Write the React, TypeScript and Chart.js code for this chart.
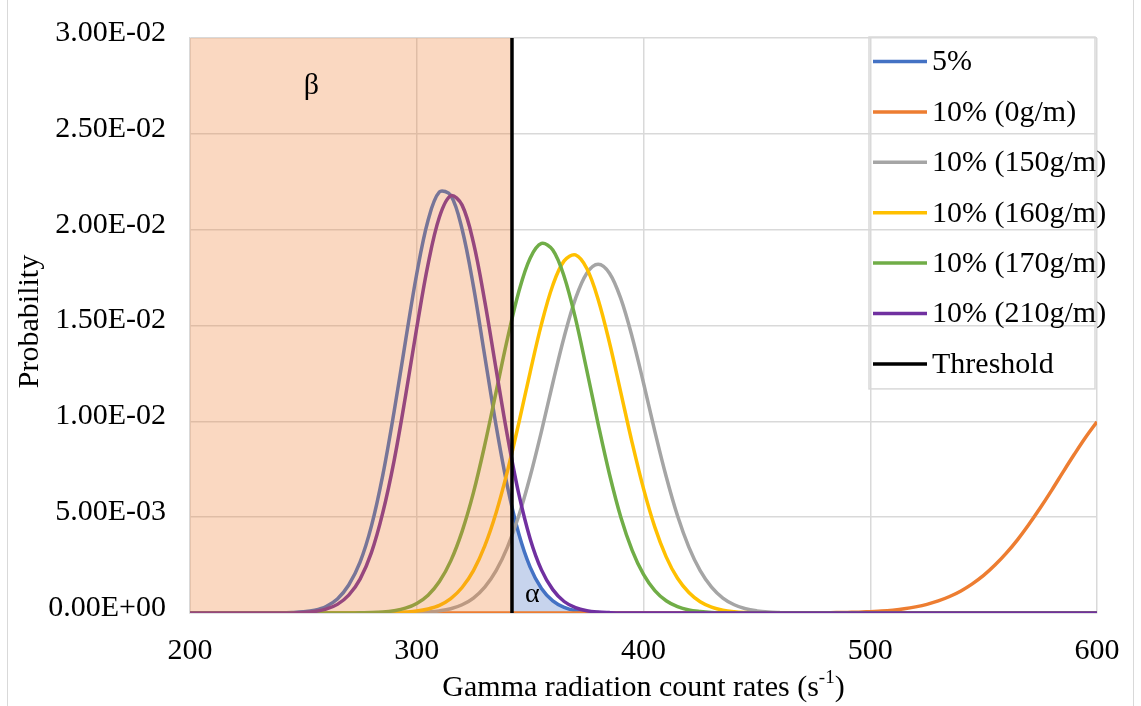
import { useEffect, useRef } from "react";
import { Chart, registerables } from "chart.js";

Chart.register(...registerables);

// Count rate grid (s^-1)
const X = [
  200, 205, 210, 215, 220, 225, 230, 235, 240, 245,
  250, 255, 260, 265, 270, 275, 280, 285, 290, 295,
  300, 305, 310, 315, 320, 325, 330, 335, 340, 345,
  350, 355, 360, 365, 370, 375, 380, 385, 390, 395,
  400, 405, 410, 415, 420, 425, 430, 435, 440, 445,
  450, 455, 460, 465, 470, 475, 480, 485, 490, 495,
  500, 505, 510, 515, 520, 525, 530, 535, 540, 545,
  550, 555, 560, 565, 570, 575, 580, 585, 590, 595,
  600,
];

const P_5 = [
  0, 0, 0, 0, 0, 0, 0, 0, 0, 0.00002,
  0.00006, 0.00015, 0.00034, 0.00073, 0.00146, 0.00265, 0.00453, 0.00718, 0.0105, 0.01416,
  0.0177, 0.02049, 0.02197, 0.02179, 0.02002, 0.01704, 0.0134, 0.00977, 0.00659, 0.00413,
  0.00239, 0.00128, 0.00063, 0.00029, 0.00012, 0.00005, 0.00002, 0, 0, 0,
  0, 0, 0, 0, 0, 0, 0, 0, 0, 0,
  0, 0, 0, 0, 0, 0, 0, 0, 0, 0,
  0, 0, 0, 0, 0, 0, 0, 0, 0, 0,
  0, 0, 0, 0, 0, 0, 0, 0, 0, 0,
  0,
];

const P_10_0 = [
  0, 0, 0, 0, 0, 0, 0, 0, 0, 0,
  0, 0, 0, 0, 0, 0, 0, 0, 0, 0,
  0, 0, 0, 0, 0, 0, 0, 0, 0, 0,
  0, 0, 0, 0, 0, 0, 0, 0, 0, 0,
  0, 0, 0, 0, 0, 0, 0, 0, 0, 0,
  0, 0, 0, 0, 0, 0, 0.00001, 0.00002, 0.00003, 0.00004,
  0.00007, 0.0001, 0.00015, 0.00022, 0.00032, 0.00045, 0.00063, 0.00086, 0.00115, 0.00152,
  0.00196, 0.0025, 0.00312, 0.00383, 0.00463, 0.00549, 0.0064, 0.00735, 0.00828, 0.00917,
  0.00998,
];

const P_10_150 = [
  0, 0, 0, 0, 0, 0, 0, 0, 0, 0,
  0, 0, 0, 0, 0, 0, 0, 0, 0, 0,
  0.00002, 0.00005, 0.00011, 0.00022, 0.00043, 0.00078, 0.00135, 0.00221, 0.00344, 0.00507,
  0.00712, 0.00948, 0.012, 0.0144, 0.0164, 0.01773, 0.0182, 0.01773, 0.0164, 0.0144,
  0.012, 0.00948, 0.00712, 0.00507, 0.00344, 0.00221, 0.00135, 0.00078, 0.00043, 0.00022,
  0.00011, 0.00005, 0.00002, 0, 0, 0, 0, 0, 0, 0,
  0, 0, 0, 0, 0, 0, 0, 0, 0, 0,
  0, 0, 0, 0, 0, 0, 0, 0, 0, 0,
  0,
];

const P_10_160 = [
  0, 0, 0, 0, 0, 0, 0, 0, 0, 0,
  0, 0, 0, 0, 0, 0, 0, 0, 0.00002, 0.00005,
  0.0001, 0.00021, 0.0004, 0.00075, 0.00133, 0.00221, 0.0035, 0.00523, 0.0074, 0.00991,
  0.01256, 0.01507, 0.0171, 0.01837, 0.01868, 0.01797, 0.01636, 0.0141, 0.0115, 0.00888,
  0.00649, 0.00448, 0.00293, 0.00181, 0.00107, 0.00059, 0.00031, 0.00015, 0.00007, 0.00003,
  0.00001, 0, 0, 0, 0, 0, 0, 0, 0, 0,
  0, 0, 0, 0, 0, 0, 0, 0, 0, 0,
  0, 0, 0, 0, 0, 0, 0, 0, 0, 0,
  0,
];

const P_10_170 = [
  0, 0, 0, 0, 0, 0, 0, 0, 0, 0,
  0, 0, 0, 0, 0, 0.00001, 0.00002, 0.00005, 0.00012, 0.00025,
  0.0005, 0.00093, 0.00164, 0.00272, 0.00426, 0.00628, 0.00877, 0.01154, 0.01431, 0.01676,
  0.01851, 0.01928, 0.01894, 0.01756, 0.01537, 0.01266, 0.00986, 0.00724, 0.005, 0.00327,
  0.00201, 0.00117, 0.00064, 0.00033, 0.00016, 0.00008, 0.00003, 0.00001, 0, 0,
  0, 0, 0, 0, 0, 0, 0, 0, 0, 0,
  0, 0, 0, 0, 0, 0, 0, 0, 0, 0,
  0, 0, 0, 0, 0, 0, 0, 0, 0, 0,
  0,
];

const P_10_210 = [
  0, 0, 0, 0, 0, 0, 0, 0, 0, 0,
  0.00003, 0.00008, 0.0002, 0.00045, 0.00093, 0.00177, 0.00315, 0.00522, 0.00794, 0.01128,
  0.01488, 0.0182, 0.02066, 0.02177, 0.02128, 0.01932, 0.01626, 0.01271, 0.00923, 0.00621,
  0.00388, 0.00225, 0.00122, 0.0006, 0.00028, 0.00012, 0.00005, 0.00002, 0, 0,
  0, 0, 0, 0, 0, 0, 0, 0, 0, 0,
  0, 0, 0, 0, 0, 0, 0, 0, 0, 0,
  0, 0, 0, 0, 0, 0, 0, 0, 0, 0,
  0, 0, 0, 0, 0, 0, 0, 0, 0, 0,
  0,
];

const SERIES_LABELS = [
  "5%",
  "10% (0g/m)",
  "10% (150g/m)",
  "10% (160g/m)",
  "10% (170g/m)",
  "10% (210g/m)",
  "Threshold",
];

// Decision threshold and the probability span it is drawn over
const THRESHOLD = 342;
const THRESHOLD_SPAN = [0, 0.03];
// 5% curve value where the α (false alarm) region starts
const ALPHA_EDGE = 0.0055;

// Positions of the region labels, in data units
const BETA_AT = [253.5, 0.0275];
const ALPHA_AT = [351, 0.00094];

const X_TICK_LABELS = ["200", "300", "400", "500", "600"];
const Y_TICK_LABELS = [
  "0.00E+00",
  "5.00E-03",
  "1.00E-02",
  "1.50E-02",
  "2.00E-02",
  "2.50E-02",
  "3.00E-02",
];

const X_TITLE = "Gamma radiation count rates (s";
const X_TITLE_SUP = "-1";
const X_TITLE_END = ")";
const Y_TITLE = "Probability";

const COLORS = ["#4472C4", "#ED7D31", "#A5A5A5", "#FFC000", "#70AD47", "#7030A0", "#000000"];
const FONT = "'Liberation Serif', 'Times New Roman', serif";
const GRID = "#d9d9d9";

const pts = (ys: number[]) => X.map((x, i) => ({ x, y: ys[i] }));

const curve = (i: number, ys: number[], order: number) => ({
  label: SERIES_LABELS[i],
  data: pts(ys),
  borderColor: COLORS[i],
  backgroundColor: COLORS[i],
  borderWidth: 3.5,
  pointRadius: 0,
  tension: 0.35,
  fill: false,
  order,
  inLegend: true,
});

const overlayPlugin = {
  id: "overlay",
  afterDraw(chart: any) {
    const { ctx, chartArea: a, scales } = chart;
    const xs = scales.x;
    const ys = scales.y;
    ctx.save();

    // outer frame
    ctx.strokeStyle = GRID;
    ctx.lineWidth = 1;
    ctx.beginPath();
    ctx.moveTo(7.5, 0);
    ctx.lineTo(7.5, chart.height);
    ctx.moveTo(1133.5, 0);
    ctx.lineTo(1133.5, chart.height);
    ctx.stroke();

    // region labels
    ctx.fillStyle = "#000";
    ctx.textAlign = "center";
    ctx.textBaseline = "middle";
    ctx.font = `30px ${FONT}`;
    ctx.fillText("β", xs.getPixelForValue(BETA_AT[0]), ys.getPixelForValue(BETA_AT[1]));
    ctx.font = `28px ${FONT}`;
    ctx.fillText("α", xs.getPixelForValue(ALPHA_AT[0]), ys.getPixelForValue(ALPHA_AT[1]));

    // y title
    ctx.save();
    ctx.translate(30, (a.top + a.bottom) / 2 - 4);
    ctx.rotate(-Math.PI / 2);
    ctx.font = `30px ${FONT}`;
    ctx.fillText(Y_TITLE, 0, 0);
    ctx.restore();

    // x title with superscript
    ctx.textAlign = "left";
    ctx.textBaseline = "alphabetic";
    const mainFont = `30px ${FONT}`;
    const supFont = `19px ${FONT}`;
    ctx.font = mainFont;
    const w1 = ctx.measureText(X_TITLE).width;
    const w3 = ctx.measureText(X_TITLE_END).width;
    ctx.font = supFont;
    const w2 = ctx.measureText(X_TITLE_SUP).width;
    const total = w1 + w2 + w3;
    let cx = (a.left + a.right) / 2 - total / 2;
    const base = 696;
    ctx.font = mainFont;
    ctx.fillText(X_TITLE, cx, base);
    cx += w1;
    ctx.font = supFont;
    ctx.fillText(X_TITLE_SUP, cx, base - 13);
    cx += w2;
    ctx.font = mainFont;
    ctx.fillText(X_TITLE_END, cx, base);

    // legend
    const items = chart.data.datasets.filter((d: any) => d.inLegend);
    const boxL = a.right - 228;
    const boxR = a.right - 2;
    const boxT = a.top - 1;
    const rowH = 50.4;
    const firstRow = boxT + 24.5;
    const boxB = firstRow + rowH * (items.length - 1) + 25;
    ctx.strokeStyle = GRID;
    ctx.lineWidth = 1.5;
    ctx.strokeRect(boxL, boxT, boxR - boxL, boxB - boxT);
    ctx.font = `30px ${FONT}`;
    ctx.textBaseline = "middle";
    items.forEach((d: any, i: number) => {
      const yy = firstRow + i * rowH;
      ctx.strokeStyle = d.borderColor;
      ctx.lineWidth = 3.5;
      ctx.beginPath();
      ctx.moveTo(boxL + 4, yy);
      ctx.lineTo(boxL + 58, yy);
      ctx.stroke();
      ctx.fillStyle = "#000";
      ctx.fillText(d.label, boxL + 63, yy + 1);
    });

    ctx.restore();
  },
};

export default function App() {
  const ref = useRef<HTMLCanvasElement>(null);

  useEffect(() => {
    if (!ref.current) return;

    const alphaData = [
      { x: THRESHOLD, y: ALPHA_EDGE },
      ...pts(P_5).filter((p) => p.x > THRESHOLD),
    ];

    const chart = new Chart(ref.current, {
      type: "line",
      data: {
        datasets: [
          curve(0, P_5, 7),
          curve(1, P_10_0, 6),
          curve(2, P_10_150, 5),
          curve(3, P_10_160, 4),
          curve(4, P_10_170, 3),
          curve(5, P_10_210, 2),
          {
            label: SERIES_LABELS[6],
            data: THRESHOLD_SPAN.map((y) => ({ x: THRESHOLD, y })),
            borderColor: COLORS[6],
            backgroundColor: COLORS[6],
            borderWidth: 3.5,
            pointRadius: 0,
            tension: 0,
            fill: false,
            order: 0,
            inLegend: true,
          } as any,
          // β region: below the threshold
          {
            label: "",
            data: [
              { x: 200, y: THRESHOLD_SPAN[1] },
              { x: THRESHOLD, y: THRESHOLD_SPAN[1] },
            ],
            borderColor: "rgba(0,0,0,0)",
            backgroundColor: "rgba(237,125,49,0.3)",
            borderWidth: 0,
            pointRadius: 0,
            tension: 0,
            fill: "origin",
            order: 1,
          },
          // α region: 5% curve above the threshold
          {
            label: "",
            data: alphaData,
            borderColor: "rgba(0,0,0,0)",
            backgroundColor: "rgba(68,114,196,0.3)",
            borderWidth: 0,
            pointRadius: 0,
            tension: 0.35,
            fill: "origin",
            order: 8,
          },
        ] as any,
      },
      options: {
        responsive: false,
        animation: false,
        events: [],
        layout: { padding: { left: 0, right: 44, top: 38, bottom: 0 } },
        plugins: {
          legend: { display: false },
          tooltip: { enabled: false },
        },
        scales: {
          x: {
            type: "linear",
            min: 200,
            max: 600,
            ticks: {
              stepSize: 100,
              padding: 20,
              color: "#000",
              font: { family: FONT, size: 30 },
              maxRotation: 0,
              autoSkip: false,
              callback: (_v: any, i: number) => X_TICK_LABELS[i],
            },
            grid: { color: GRID, lineWidth: 1.5, drawTicks: false },
            border: { color: GRID, width: 1.5 },
            afterFit: (s: any) => {
              s.height = 93;
            },
          },
          y: {
            type: "linear",
            min: 0,
            max: 0.03,
            ticks: {
              stepSize: 0.005,
              padding: 24,
              labelOffset: -5,
              color: "#000",
              font: { family: FONT, size: 30, lineHeight: 0.9 },
              autoSkip: false,
              callback: (_v: any, i: number) => Y_TICK_LABELS[i],
            },
            grid: { color: GRID, lineWidth: 1.5, drawTicks: false },
            border: { color: GRID, width: 1.5 },
            afterFit: (s: any) => {
              s.width = 190;
            },
          },
        },
      } as any,
      plugins: [overlayPlugin],
    });

    return () => chart.destroy();
  }, []);

  return (
    <div
      style={{
        position: "absolute",
        left: 0,
        top: 0,
        width: 1141,
        height: 706,
        background: "#fff",
        overflow: "hidden",
      }}
    >
      <canvas ref={ref} width={1141} height={706} style={{ display: "block" }} />
    </div>
  );
}
